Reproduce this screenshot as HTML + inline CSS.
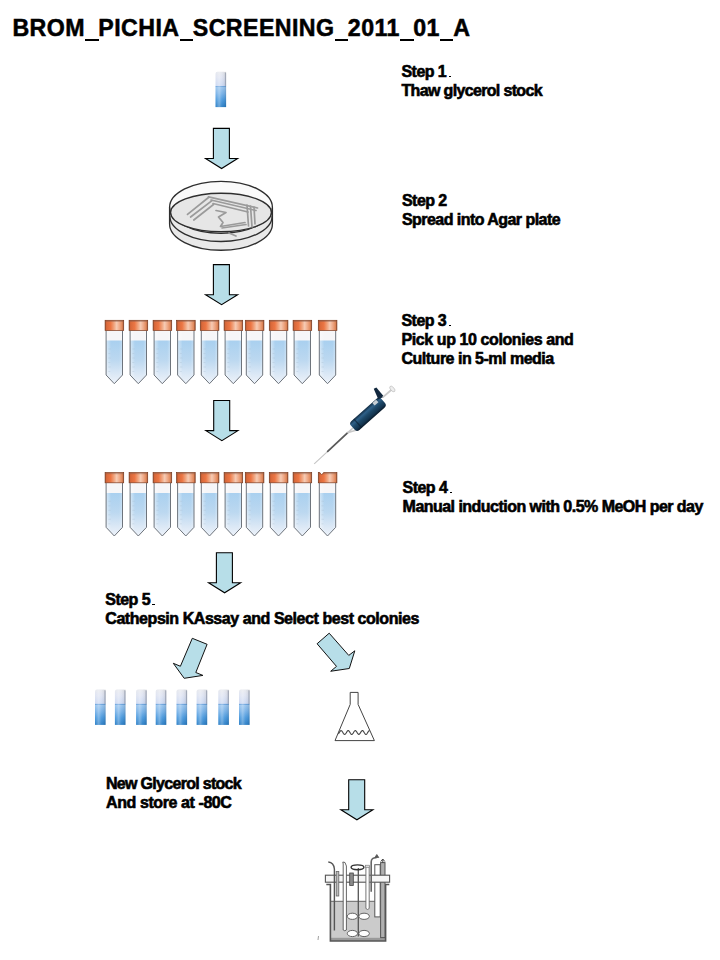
<!DOCTYPE html>
<html><head><meta charset="utf-8">
<style>
html,body{margin:0;padding:0;background:#fff;}
body{width:720px;height:960px;position:relative;overflow:hidden;font-family:"Liberation Sans",sans-serif;}
.t{position:absolute;font-weight:bold;font-size:16px;line-height:18.9px;color:#000;letter-spacing:-0.55px;white-space:nowrap;-webkit-text-stroke:0.6px #000;}
.u{position:relative;color:transparent;-webkit-text-stroke:0;}
.u::after{content:"";position:absolute;left:0.3px;right:-0.3px;top:23.6px;height:2.1px;background:#000;}
.p{display:inline-block;width:2.6px;height:1.2px;background:#000;vertical-align:baseline;margin-left:2.4px;}
#title{position:absolute;left:12.4px;top:14.1px;font-weight:bold;font-size:23.2px;line-height:28px;letter-spacing:0.43px;white-space:nowrap;-webkit-text-stroke:0.5px #000;}
svg{position:absolute;left:0;top:0;}
</style></head><body>
<svg width="720" height="960" viewBox="0 0 720 960">
<defs>
  <linearGradient id="cap" x1="0" x2="1" y1="0" y2="0">
    <stop offset="0" stop-color="#a04a26"/>
    <stop offset="0.08" stop-color="#d8683a"/>
    <stop offset="0.3" stop-color="#ec7644"/>
    <stop offset="0.48" stop-color="#f0a47e"/>
    <stop offset="0.62" stop-color="#f6cbb4"/>
    <stop offset="0.78" stop-color="#eea886"/>
    <stop offset="0.92" stop-color="#e0885a"/>
    <stop offset="1" stop-color="#9c4c2c"/>
  </linearGradient>
  <linearGradient id="liq" x1="0" x2="0" y1="0" y2="1">
    <stop offset="0" stop-color="#a9d0ef"/>
    <stop offset="0.45" stop-color="#bcd8f0"/>
    <stop offset="0.8" stop-color="#dde9f6"/>
    <stop offset="1" stop-color="#eef3fa"/>
  </linearGradient>
  <linearGradient id="liqh" x1="0" x2="1" y1="0" y2="0">
    <stop offset="0" stop-color="#fff" stop-opacity="0.5"/>
    <stop offset="0.3" stop-color="#fff" stop-opacity="0"/>
    <stop offset="0.8" stop-color="#fff" stop-opacity="0"/>
    <stop offset="1" stop-color="#fff" stop-opacity="0.3"/>
  </linearGradient>
  <linearGradient id="gcap" x1="0" x2="0" y1="0" y2="1">
    <stop offset="0" stop-color="#e6e8ee"/>
    <stop offset="0.4" stop-color="#dfe4f2"/>
    <stop offset="1" stop-color="#cbd8f2"/>
  </linearGradient>
  <linearGradient id="gliq" x1="0" x2="0" y1="0" y2="1">
    <stop offset="0" stop-color="#4e8fd2"/>
    <stop offset="0.07" stop-color="#98c4ee"/>
    <stop offset="0.35" stop-color="#78b2e8"/>
    <stop offset="0.65" stop-color="#4b9ade"/>
    <stop offset="1" stop-color="#2c7fc6"/>
  </linearGradient>
  <linearGradient id="gh" x1="0" x2="1" y1="0" y2="0">
    <stop offset="0" stop-color="#fff" stop-opacity="0"/>
    <stop offset="0.35" stop-color="#fff" stop-opacity="0.3"/>
    <stop offset="0.6" stop-color="#fff" stop-opacity="0.05"/>
    <stop offset="0.85" stop-color="#000" stop-opacity="0.05"/>
    <stop offset="1" stop-color="#000" stop-opacity="0.15"/>
  </linearGradient>
  <g id="tube">
    <path d="M1.3 10.6 V55 L9.5 63.7 L17.7 55 V10.6 Z" fill="#f6f6f8"/>
    <path d="M1.3 20.6 V55 L9.5 63.7 L17.7 55 V20.6 Z" fill="url(#liq)"/>
    <path d="M1.3 10.6 V55 L9.5 63.7 L17.7 55 V10.6 Z" fill="url(#liqh)"/>
    <g stroke="#a8bccf" stroke-width="0.7" opacity="0.45">
      <path d="M3.5 29 h2.5 M3.5 33.5 h2 M3.5 38 h2.5 M3.5 42.5 h2 M3.5 47 h2.5 M3.5 51.5 h2"/>
    </g>
    <path d="M1.3 10.6 V55 L9.5 63.7 L17.7 55 V10.6" fill="none" stroke="#6e747c" stroke-width="1"/>
    <rect x="0.3" y="0.3" width="18.6" height="10.2" fill="url(#cap)" stroke="#7a3a1e" stroke-width="0.7"/>
    <rect x="0.6" y="0.6" width="18" height="1.3" fill="#8a5a4a" opacity="0.45"/>
  </g>
  <g id="gtube">
    <path d="M0 14.3 V2 Q0 0 2 0 H8.6 Q10.6 0 10.6 2 V14.3 Z" fill="url(#gcap)"/>
    <rect x="9.4" y="0.8" width="1.2" height="13.5" fill="#9aa4b8" opacity="0.6"/>
    <rect x="0" y="14.3" width="10.6" height="21" fill="url(#gliq)"/>
    <rect x="0" y="0" width="10.6" height="35.3" fill="url(#gh)"/>
  </g>
  <linearGradient id="pip" x1="0" x2="0" y1="0" y2="1">
    <stop offset="0" stop-color="#102a40"/>
    <stop offset="0.25" stop-color="#2f6088"/>
    <stop offset="0.5" stop-color="#1d4868"/>
    <stop offset="0.8" stop-color="#143550"/>
    <stop offset="1" stop-color="#0a1a2a"/>
  </linearGradient>
  <path id="darr" d="M8.4 0.5 H24.4 V30.6 H32.6 L16.6 40.6 L0.6 30.6 H8.4 Z" fill="#b7dee8" stroke="#000" stroke-width="1.1" stroke-linejoin="miter"/>
</defs>

<!-- step 1 glycerol tube -->
<use href="#gtube" x="215.5" y="71.8"/>

<!-- arrows -->
<use href="#darr" x="205" y="127.9"/>
<use href="#darr" x="205" y="264.1"/>
<use href="#darr" x="205.3" y="400"/>
<use href="#darr" x="208" y="552.2"/>
<use href="#darr" x="340.3" y="779.2"/>

<!-- diagonal arrows -->
<path d="M192.3 638.3 L207.1 644.3 L195.8 672.5 L202.9 675.4 L184.2 678.3 L173.3 663.3 L180.4 666.25 Z" fill="#b7dee8" stroke="#111" stroke-width="1.0" stroke-linejoin="miter"/>
<path d="M317.1 643.75 L329.2 633.2 L348.75 655.4 L354.8 650.8 L349.3 668.5 L330.7 671.25 L336.5 666.4 Z" fill="#b7dee8" stroke="#111" stroke-width="1.0" stroke-linejoin="miter"/>

<!-- petri dish -->
<g fill="none" stroke="#2e2e2e" stroke-width="1.35">
  <path d="M169.6 207.5 V224 A51.4 26.3 0 0 0 272.4 224 V208" fill="#e9e9e9" stroke="none"/>
  <ellipse cx="221" cy="207.3" rx="51.4" ry="26" fill="#fafafa"/>
  <ellipse cx="221" cy="212.5" rx="50.4" ry="19.3" fill="#e6e6e6"/>
  <path d="M169.6 207.5 V224 A51.4 26.3 0 0 0 272.4 224 V208"/>
  <path d="M169.8 216 A51.2 25.5 0 0 0 272.2 216"/>
</g>
<g fill="none" stroke="#9a9a9a" stroke-width="1.7" stroke-linecap="round" stroke-linejoin="round">
  <path d="M187.5 214.4 L208.5 197.5"/>
  <path d="M190.6 217 L212 200.6"/>
  <path d="M193.8 220 L213.5 204.5"/>
  <path d="M208.5 196.8 L257.5 208"/>
  <path d="M211 200 L256 210.5"/>
  <path d="M213 203.5 L248 212"/>
  <path d="M247 205 L248.5 226"/>
  <path d="M250.5 206 L252 227"/>
  <path d="M254 207 L255 224"/>
  <path d="M216 210.5 L226 212.5 L218.5 217 L223 222.5 L220.5 226.5 L245 222.5"/>
  <path d="M222 228 L246 224.5"/>
  <path d="M229 233 L236 236"/>
</g>
<!-- rows of tubes -->
<g id="row1">
<use href="#tube" x="104.8" y="320"/>
<use href="#tube" x="128.8" y="320"/>
<use href="#tube" x="152.8" y="320"/>
<use href="#tube" x="176.3" y="320"/>
<use href="#tube" x="200" y="320"/>
<use href="#tube" x="223.8" y="320"/>
<use href="#tube" x="245" y="320"/>
<use href="#tube" x="269" y="320"/>
<use href="#tube" x="292.8" y="320"/>
<use href="#tube" x="318" y="320"/>
</g>
<g>
<use href="#tube" x="104.8" y="472.3"/>
<use href="#tube" x="128.8" y="472.3"/>
<use href="#tube" x="152.8" y="472.3"/>
<use href="#tube" x="176.3" y="472.3"/>
<use href="#tube" x="200" y="472.3"/>
<use href="#tube" x="223.8" y="472.3"/>
<use href="#tube" x="245" y="472.3"/>
<use href="#tube" x="269" y="472.3"/>
<use href="#tube" x="292.8" y="472.3"/>
<use href="#tube" x="318" y="472.3"/>
</g>

<path d="M319.6 472.1 L323.8 472.1 L321.7 474.8 Z" fill="#fff"/>
<path d="M319.6 472.4 L321.7 474.8 L323.8 472.4" fill="none" stroke="#7a3a1e" stroke-width="0.6"/>
<!-- pipette -->
<g>
  <path d="M327.7 451.3 L314.2 463.8" stroke="#c4c4c4" stroke-width="1.1" fill="none"/>
  <path d="M347.5 432.8 L327.7 451.3" stroke="#5a5a5a" stroke-width="1.8" fill="none" stroke-linecap="round"/>
  <path d="M353 428 L347.5 432.8 L360 429" stroke="#c8c8c8" stroke-width="1.6" fill="none"/>
  <g transform="translate(356.5 425.1) rotate(-41.5)">
    <rect x="-4.5" y="-6.5" width="40.5" height="12" rx="3.5" fill="url(#pip)"/>
    <rect x="1.5" y="-6.5" width="1.3" height="12" fill="#0a1a2c" opacity="0.6"/>
    <rect x="26.5" y="-6" width="5" height="3.4" fill="#c9d0d6"/>
    <path d="M33.5 -5 L37 -15.8 L39.8 -15 L39.5 -3 Z" fill="#12283e"/>
    <rect x="38" y="-4.2" width="12" height="1.8" fill="#cacaca"/>
    <ellipse cx="50.8" cy="-3.3" rx="1.8" ry="3.4" fill="#eeeeee" stroke="#b8b8b8" stroke-width="0.6"/>
  </g>
</g>

<!-- small glycerol tubes -->
<use href="#gtube" x="95.0" y="689.6"/>
<use href="#gtube" x="114.9" y="689.6"/>
<use href="#gtube" x="136.1" y="689.6"/>
<use href="#gtube" x="155.7" y="689.6"/>
<use href="#gtube" x="176.5" y="689.6"/>
<use href="#gtube" x="196.6" y="689.6"/>
<use href="#gtube" x="218.3" y="689.6"/>
<use href="#gtube" x="239.0" y="689.6"/>

<!-- flask -->
<g fill="none" stroke="#444" stroke-width="1">
  <path d="M350.2 704.4 V692.4 H358.1 V704.4 L374.4 740.6 H335 Z"/>
  <path d="M338.30 734.00 L338.69 733.51 L339.08 732.90 L339.47 732.25 L339.87 731.63 L340.26 731.11 L340.65 730.75 L341.04 730.60 L341.43 730.68 L341.82 730.97 L342.21 731.45 L342.60 732.05 L343.00 732.70 L343.39 733.33 L343.78 733.86 L344.17 734.23 L344.56 734.39 L344.95 734.33 L345.34 734.05 L345.73 733.59 L346.12 733.00 L346.52 732.35 L346.91 731.71 L347.30 731.17 L347.69 730.79 L348.08 730.61 L348.47 730.65 L348.86 730.92 L349.25 731.37 L349.65 731.95 L350.04 732.61 L350.43 733.24 L350.82 733.79 L351.21 734.19 L351.60 734.38 L351.99 734.36 L352.38 734.11 L352.78 733.67 L353.17 733.09 L353.56 732.44 L353.95 731.80 L354.34 731.24 L354.73 730.83 L355.12 730.62 L355.52 730.63 L355.91 730.87 L356.30 731.29 L356.69 731.86 L357.08 732.51 L357.47 733.15 L357.86 733.72 L358.25 734.14 L358.65 734.37 L359.04 734.37 L359.43 734.16 L359.82 733.74 L360.21 733.18 L360.60 732.54 L360.99 731.89 L361.38 731.32 L361.78 730.88 L362.17 730.64 L362.56 730.62 L362.95 730.82 L363.34 731.22 L363.73 731.77 L364.12 732.41 L364.51 733.06 L364.91 733.64 L365.30 734.09 L365.69 734.35 L366.08 734.39 L366.47 734.20 L366.86 733.81 L367.25 733.27 L367.64 732.64 L368.04 731.99 L368.43 731.40 L368.82 730.94 L369.21 730.66 L369.60 730.61" stroke-width="1.1"/>
</g>

<!-- fermentor -->
<g fill="none" stroke="#4a4a4a" stroke-width="1">
  <rect x="330.5" y="901.3" width="55" height="39.5" fill="#cbcbcb" stroke="none"/>
  <rect x="330.5" y="937.8" width="55" height="3.2" fill="#9a9a9a" stroke="none"/>
  <line x1="330.5" y1="901.3" x2="385.5" y2="901.3" stroke="#666"/>
  <path d="M326.3 884.5 H330.4 V941 H385.6 V884.5 H389.3" stroke="#555" stroke-width="1.6"/>
  <!-- right gray tube -->
  <rect x="380.6" y="862.6" width="4.4" height="75" fill="#b0b0b0" stroke="#555"/>
  <path d="M382.8 863 V859.5 M380.8 861.5 L382.8 859 L384.8 861.5" stroke="#444" stroke-width="1"/>
  <!-- tall white rect -->
  <rect x="374.8" y="864.7" width="5.4" height="52.2" fill="#fff" stroke="#555"/>
  <!-- lid -->
  <rect x="325.4" y="875.2" width="64.2" height="7" fill="#f6f6f6" stroke="#555" stroke-width="1.1"/>
  <!-- tube 1 -->
  <path d="M328.3 862 Q333.8 862.5 334.4 869 V930.4" stroke="#555" stroke-width="1.4"/>
  <!-- tube 2 -->
  <rect x="336.2" y="871.4" width="2.6" height="24.6" fill="#bdbdbd" stroke="#666" stroke-width="0.8"/>
  <!-- tube 3 -->
  <path d="M343.2 930 V864 L342.8 862 L345 862.5 L346.4 866 V930 Q344.8 931.5 343.2 930 Z" fill="#fff" stroke="#555" stroke-width="0.9"/>
  <!-- block -->
  <rect x="349.7" y="873" width="3.6" height="12.5" fill="#8a8a8a" stroke="#444" stroke-width="0.8"/>
  <!-- shaft -->
  <line x1="358.3" y1="868" x2="358.3" y2="936.5" stroke="#555" stroke-width="1.3"/>
  <!-- stirrer ellipse -->
  <ellipse cx="357.5" cy="867.3" rx="6.4" ry="2.4" stroke="#333" stroke-width="1.4"/>
  <!-- tube 7 -->
  <path d="M365.9 866.5 V908.5 Q367.6 910.5 369.2 908.5 V866.5 Z" fill="#fff" stroke="#666" stroke-width="0.9"/>
  <rect x="365.6" y="865.2" width="3.9" height="2.2" fill="#ddd" stroke="#777" stroke-width="0.6"/>
  <!-- tube 8 curved with arrow -->
  <path d="M371.2 891.7 V862 Q371.2 857.5 376.6 857.8" stroke="#666" stroke-width="1.6"/>
  <path d="M374.8 857.5 L376.8 854.5 L378.8 857.5 Z" fill="#555" stroke="#555" stroke-width="0.8"/>
  <!-- impellers -->
  <ellipse cx="352.4" cy="916.3" rx="5.1" ry="3.1" fill="#fff" stroke="#555" stroke-width="0.9"/>
  <ellipse cx="364.1" cy="916.3" rx="5.3" ry="3.1" fill="#fff" stroke="#555" stroke-width="0.9"/>
  <ellipse cx="352.4" cy="933.5" rx="5.1" ry="3.1" fill="#fff" stroke="#555" stroke-width="0.9"/>
  <ellipse cx="364.1" cy="933.5" rx="5.3" ry="3.1" fill="#fff" stroke="#555" stroke-width="0.9"/>
  <path d="M318.5 936 L318 940" stroke="#888" stroke-width="0.8"/>
</g>
</svg>

<div id="title">BROM<span class=u>_</span>PICHIA<span class=u>_</span>SCREENING<span class=u>_</span>2011<span class=u>_</span>01<span class=u>_</span>A</div>
<div class="t" style="left:401.5px;top:62.9px">Step 1<span class=p></span><br><span style="letter-spacing:-0.66px">Thaw glycerol stock</span></div>
<div class="t" style="left:402px;top:191.9px">Step 2<br>Spread into Agar plate</div>
<div class="t" style="left:401.5px;top:312px">Step 3<span class=p></span><br><span style="letter-spacing:-0.41px">Pick up 10 colonies and</span><br><span style="letter-spacing:-0.50px">Culture in 5-ml media</span></div>
<div class="t" style="left:402.6px;top:479.3px">Step 4<span class=p></span><br><span style="letter-spacing:-0.53px">Manual induction with 0.5% MeOH per day</span></div>
<div class="t" style="left:105.3px;top:590.7px">Step 5<span class=p></span><br><span style="letter-spacing:-0.44px">Cathepsin KAssay and Select best colonies</span></div>
<div class="t" style="left:106px;top:775.1px"><span style="letter-spacing:-0.70px">New Glycerol stock</span><br><span style="letter-spacing:-0.41px">And store at -80C</span></div>
</body></html>
